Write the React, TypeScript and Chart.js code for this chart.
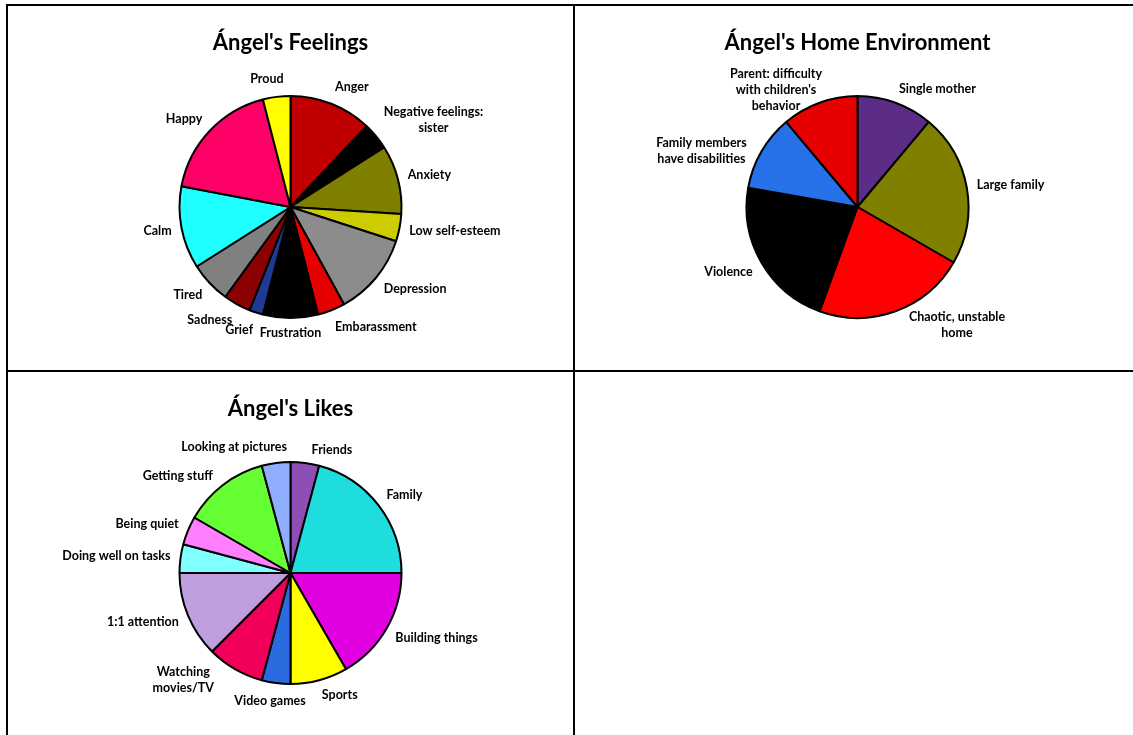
import React, { useEffect, useRef } from "react";
import { Chart, registerables } from "chart.js";

Chart.register(...registerables);

const FONT = "Lato, 'Open Sans', 'DejaVu Sans', sans-serif";

// ---------- Data ----------
const feelingsTitle = "Ángel's Feelings";
const feelingsLabels = [
  "Anger",
  "Negative feelings:\nsister",
  "Anxiety",
  "Low self-esteem",
  "Depression",
  "Embarassment",
  "Frustration",
  "Grief",
  "Sadness",
  "Tired",
  "Calm",
  "Happy",
  "Proud",
];
const feelingsValues = [6, 2, 5, 2, 6, 2, 4, 1, 2, 3, 6, 9, 2];
const feelingsColors = [
  "#C00000",
  "#000000",
  "#808000",
  "#CCCC00",
  "#8C8C8C",
  "#E60000",
  "#000000",
  "#1F3A93",
  "#8B0000",
  "#808080",
  "#1FFFFF",
  "#FF0066",
  "#FFFF00",
];

const homeTitle = "Ángel's Home Environment";
const homeLabels = [
  "Single mother",
  "Large family",
  "Chaotic, unstable\nhome",
  "Violence",
  "Family members\nhave disabilities",
  "Parent: difficulty\nwith children's\nbehavior",
];
const homeValues = [1, 2, 2, 2, 1, 1];
const homeColors = ["#5B2D86", "#7F7F00", "#FF0000", "#000000", "#2670E8", "#E60000"];

const likesTitle = "Ángel's Likes";
const likesLabels = [
  "Friends",
  "Family",
  "Building things",
  "Sports",
  "Video games",
  "Watching\nmovies/TV",
  "1:1 attention",
  "Doing well on tasks",
  "Being quiet",
  "Getting stuff",
  "Looking at pictures",
];
const likesValues = [1, 5, 4, 2, 1, 2, 3, 1, 1, 3, 1];
const likesColors = [
  "#8E4FB5",
  "#1FDDDD",
  "#E000E0",
  "#FFFF00",
  "#2B6BE0",
  "#F0005A",
  "#C09FDF",
  "#80FFFF",
  "#FF7FFF",
  "#66FF33",
  "#8FAEFF",
];

// ---------- Label placement tweaks (style only) ----------
const feelingsNudges: Record<number, [number, number]> = { 6: [0, -3] };
const homeNudges: Record<number, [number, number]> = {
  0: [0, 3],
  2: [10, -11],
  4: [-6, 12],
  5: [6, 19],
};
const likesNudges: Record<number, [number, number]> = {
  0: [15, 5],
  3: [0, -3],
  4: [14, 0],
  5: [-16, -12],
  9: [-4, 5],
  10: [-13, 2],
};

const outsideLabels = {
  id: "outsideLabels",
  afterDatasetsDraw(chart: any, _args: any, opts: any) {
    const ctx = chart.ctx as CanvasRenderingContext2D;
    const meta = chart.getDatasetMeta(0);
    const labels = chart.data.labels as string[];
    const nudges = opts.nudges || {};
    const lh = opts.lineHeight;
    ctx.save();
    ctx.font = `bold ${opts.size}px ${FONT}`;
    ctx.fillStyle = "#000";
    ctx.textAlign = "center";
    ctx.textBaseline = "middle";
    meta.data.forEach((el: any, i: number) => {
      const p = el.getProps(["x", "y", "startAngle", "endAngle", "outerRadius"], true);
      const m = (p.startAngle + p.endAngle) / 2;
      const R = p.outerRadius + opts.gap;
      const lines = String(labels[i]).split("\n");
      const w = Math.max(...lines.map((l) => ctx.measureText(l).width));
      const h = lines.length * lh;
      const px = p.x + R * Math.cos(m);
      const py = p.y + R * Math.sin(m);
      const k = Math.max(-1, Math.min(1, Math.cos(m) / 0.25));
      const n = nudges[i] || [0, 0];
      const cx = px + (w / 2) * k + n[0];
      const cy = py + (h / 2) * Math.sin(m) + n[1];
      lines.forEach((l, j) => ctx.fillText(l, cx, cy - h / 2 + lh * (j + 0.5)));
    });
    ctx.restore();
  },
};

type PieProps = {
  title: string;
  labels: string[];
  values: number[];
  colors: string[];
  nudges: Record<number, [number, number]>;
  left: number;
  top: number;
};

function PieChart({ title, labels, values, colors, nudges, left, top }: PieProps) {
  const ref = useRef<HTMLCanvasElement | null>(null);
  useEffect(() => {
    if (!ref.current) return;
    const chart = new Chart(ref.current, {
      type: "pie",
      data: {
        labels,
        datasets: [
          {
            data: values,
            backgroundColor: colors,
            borderColor: "#000000",
            borderWidth: 2,
          },
        ],
      },
      options: {
        responsive: false,
        animation: false,
        events: [],
        layout: { padding: { top: 0, bottom: 51, left: 0, right: 0 } },
        plugins: {
          legend: { display: false },
          tooltip: { enabled: false },
          title: {
            display: true,
            text: title,
            color: "#000000",
            font: { family: FONT, size: 22, weight: "bold" },
            padding: { top: 24, bottom: 38.6 },
          },
          outsideLabels: { size: 12.5, gap: 10, lineHeight: 16, nudges },
        } as any,
      },
      plugins: [outsideLabels as any],
    });
    return () => chart.destroy();
  }, []);
  return (
    <canvas
      ref={ref}
      width={565}
      height={364}
      style={{ position: "absolute", left, top, width: 565, height: 364, display: "block" }}
    />
  );
}

const line = (left: number, top: number, width: number, height: number) => (
  <div style={{ position: "absolute", left, top, width, height, background: "#000" }} />
);

export default function App() {
  useEffect(() => {
    document.body.style.margin = "0";
    document.body.style.overflow = "hidden";
  }, []);
  return (
    <div
      style={{
        position: "fixed",
        left: 0,
        top: 0,
        width: 1133,
        height: 735,
        overflow: "hidden",
        background: "#ffffff",
      }}
    >
      <PieChart
        title={feelingsTitle}
        labels={feelingsLabels}
        values={feelingsValues}
        colors={feelingsColors}
        nudges={feelingsNudges}
        left={8}
        top={6}
      />
      <PieChart
        title={homeTitle}
        labels={homeLabels}
        values={homeValues}
        colors={homeColors}
        nudges={homeNudges}
        left={575}
        top={6}
      />
      <PieChart
        title={likesTitle}
        labels={likesLabels}
        values={likesValues}
        colors={likesColors}
        nudges={likesNudges}
        left={8}
        top={372}
      />
      {line(6, 4, 1200, 2)}
      {line(6, 4, 2, 800)}
      {line(573, 4, 2, 800)}
      {line(6, 370, 1200, 2)}
      {line(1140, 4, 2, 800)}
    </div>
  );
}
